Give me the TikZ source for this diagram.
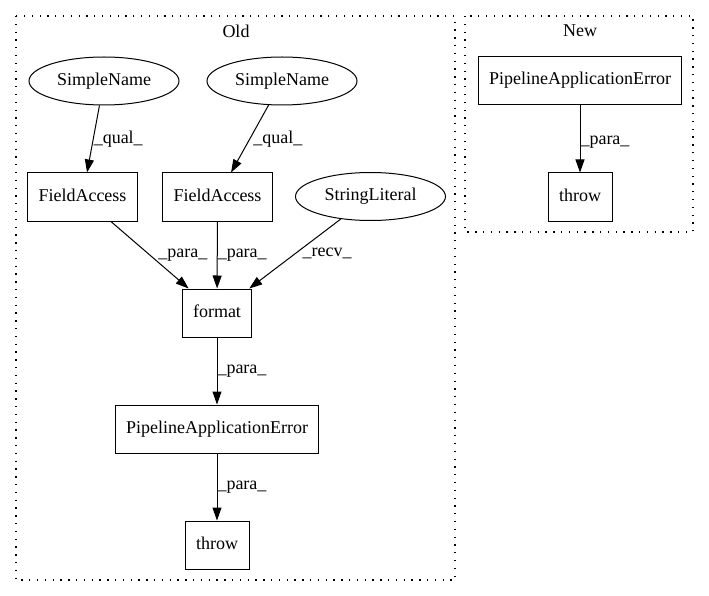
\documentclass[tikz,border=0pt]{standalone}
\usepackage{fontspec}
\setmainfont{Liberation Serif}
\usetikzlibrary{arrows.meta,shapes.geometric}

\begin{document}
\begin{tikzpicture}[
        x=1pt, y=-1pt,
        every node/.style={font=\fontsize{18}{20}\selectfont},
        box/.style={draw, rectangle, line width=1pt, minimum height=48pt, inner xsep=11pt, text height=12pt, text depth=4pt},
        oval/.style={draw, ellipse, line width=1pt, minimum height=48pt, minimum width=150pt, inner sep=0pt},
        cluster/.style={draw, dash pattern=on 1.3pt off 6.5pt, line width=1.3pt},
        edge/.style={draw, line width=1pt, -{Triangle[length=13pt, width=9pt]}},
        lbl/.style={anchor=west, inner sep=0pt},
    ]
    \useasboundingbox (0,0) rectangle (709,596);

    % clusters
    \draw[cluster] (16,16) rectangle (455,580);
    \node (oldtitle) at (236,31) {Old};
    \draw[cluster] (465,16) rectangle (693,232);
    \node (newtitle) at (580,31) {New};

    % old
    \node[oval](sn1) at (104,81) {SimpleName};
    \node[oval](sn2) at (282,81) {SimpleName};
    \node[box](fa1) at (82.5,197) {FieldAccess};
    \node[box](fa2) at (217.5,197) {FieldAccess};
    \node[oval](sl) at (370.5,196.5) {StringLiteral};
    \node[box](fmt) at (217,313) {format};
    \node[box](pae) at (217,429) {PipelineApplicationError};
    \node[box](thr) at (217,545) {throw};

    % new
    \node[box](npae) at (580,81) {PipelineApplicationError};
    \node[box](nthr) at (580,197) {throw};

    \draw[edge] (sn1) -- node[lbl]{\_qual\_} (fa1);
    \draw[edge] (sn2) -- node[lbl, xshift=3pt]{\_qual\_} (fa2);
    \draw[edge] (fa1) -- node[lbl, xshift=8pt]{\_para\_} (fmt);
    \draw[edge] (fa2) -- node[lbl]{\_para\_} (fmt);
    \draw[edge] (sl) -- node[lbl, xshift=7pt]{\_recv\_} (fmt);
    \draw[edge] (fmt) -- node[lbl]{\_para\_} (pae);
    \draw[edge] (pae) -- node[lbl]{\_para\_} (thr);
    \draw[edge] (npae) -- node[lbl, yshift=-3pt]{\_para\_} (nthr);
\end{tikzpicture}
\end{document}
